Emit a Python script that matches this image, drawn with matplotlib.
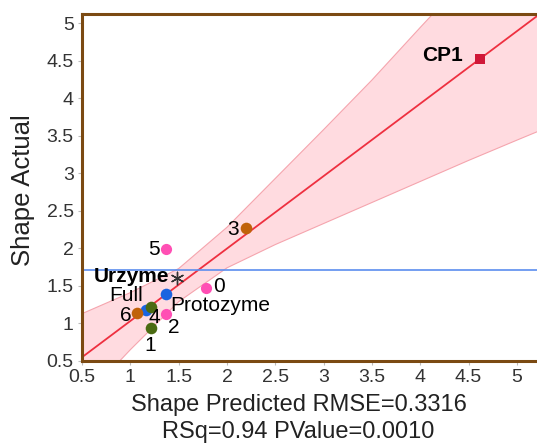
import numpy as np
import matplotlib
matplotlib.use('Agg')
import matplotlib.pyplot as plt

plt.rcParams['font.family'] = ['Liberation Sans', 'DejaVu Sans']

# DATA ****************************************************************************
names = ['CP1', 'Urzyme', 'Full', 'Protozyme', '5', '3', '0', '6', '4', '2', '1']
pred = [4.62, 1.48, 1.16, 1.37, 1.37, 2.20, 1.78, 1.07, 1.21, 1.37, 1.21]
actual = [4.52, 1.61, 1.18, 1.39, 1.99, 2.27, 1.47, 1.14, 1.22, 1.13, 0.94]

# fit line and confidence band
fit_x = [0.5, 5.3]
fit_y = [0.55, 5.18]
band_x = [0.5, 1.0, 1.5, 2.0, 2.5, 3.0, 3.5, 4.0, 4.5, 5.0, 5.3]
band_lo = [-0.03, 0.65, 1.29, 1.74, 2.05, 2.33, 2.61, 2.89, 3.17, 3.44, 3.60]
band_hi = [1.13, 1.41, 1.73, 2.28, 2.93, 3.58, 4.24, 4.94, 5.63, 6.32, 6.73]

urzyme_level = 1.71

x_ticks = [0.5, 1, 1.5, 2, 2.5, 3, 3.5, 4, 4.5, 5]
x_ticklabels = ['0.5', '1', '1.5', '2', '2.5', '3', '3.5', '4', '4.5', '5']

# STYLE ***************************************************************************
pink = '#ff4fb4'
brown = '#c0620a'
green = '#4b6b12'
blue = '#1a64e0'
styles = {
    'CP1': dict(c='#d01838', marker='s', s=60),
    'Urzyme': dict(c='#333333', marker=(6, 2, 0), s=80),
    'Full': dict(c=blue, marker='o', s=70),
    'Protozyme': dict(c=blue, marker='o', s=70),
    '5': dict(c=pink, marker='o', s=65),
    '3': dict(c=brown, marker='o', s=70),
    '0': dict(c=pink, marker='o', s=65),
    '6': dict(c=brown, marker='o', s=70),
    '4': dict(c=green, marker='o', s=70),
    '2': dict(c=pink, marker='o', s=65),
    '1': dict(c=green, marker='o', s=70),
}
# label offsets in pixels (dx, dy, ha)
offsets = {
    'CP1': (-17, 4, 'right'),
    'Urzyme': (-7, 1, 'right'),
    'Full': (-3, 14, 'right'),
    'Protozyme': (4, -11, 'left'),
    '5': (-6, 0, 'right'),
    '3': (-7, -1, 'right'),
    '0': (7, 2, 'left'),
    '6': (-5, -3, 'right'),
    '4': (-2, -11, 'left'),
    '2': (2, -14, 'left'),
    '1': (0, -18, 'center'),
}

fig = plt.figure(figsize=(5.37, 4.47), dpi=100)
ax = fig.add_axes([0.1527, 0.1924, 0.8547, 0.7763])

ax.fill_between(band_x, band_lo, band_hi, color='#ffdbe0', edgecolor='#f5a5ae', lw=0.8, zorder=1)
ax.plot(fit_x, fit_y, color='#ee3040', lw=1.3, zorder=2)
ax.axhline(urzyme_level, color='#5b8def', lw=1.2, zorder=2)

for n, xv, yv in zip(names, pred, actual):
    st = styles[n]
    lw = 1.0 if n == 'Urzyme' else 0
    ax.scatter([xv], [yv], color=st['c'], marker=st['marker'], s=st['s'], linewidths=lw, zorder=4)
    dx, dy, ha = offsets[n]
    bold = n in ('CP1', 'Urzyme')
    ax.annotate(n, (xv, yv), xytext=(dx, dy), textcoords='offset pixels', ha=ha, va='center',
                fontsize=15 if n == 'CP1' else 15, fontweight='bold' if bold else 'normal',
                color='black', zorder=5)

ax.set_xlim(0.5, 5.25)
ax.set_ylim(0.5, 5.12)
ax.set_xticks(x_ticks)
ax.set_xticklabels(x_ticklabels)
ax.set_yticks(x_ticks)
ax.set_yticklabels(x_ticklabels)
ax.tick_params(labelsize=14, length=3, color='#bbbbbb', labelcolor='#333333', pad=3)

for side in ['left', 'bottom', 'top']:
    ax.spines[side].set_color('#7b4a12')
    ax.spines[side].set_linewidth(2.2)
ax.spines['right'].set_visible(False)

ax.set_xlabel('Shape Predicted RMSE=0.3316\nRSq=0.94 PValue=0.0010', fontsize=17, color='#222222', linespacing=1.3)
ax.xaxis.set_label_coords(0.472, -0.095, transform=ax.transAxes)
ax.xaxis.label.set_va('top')
ax.set_ylabel('Shape Actual', fontsize=18.5, color='#222222')
ax.yaxis.set_label_coords(-0.102, 0.493)

fig.savefig('out.png', dpi=100)
